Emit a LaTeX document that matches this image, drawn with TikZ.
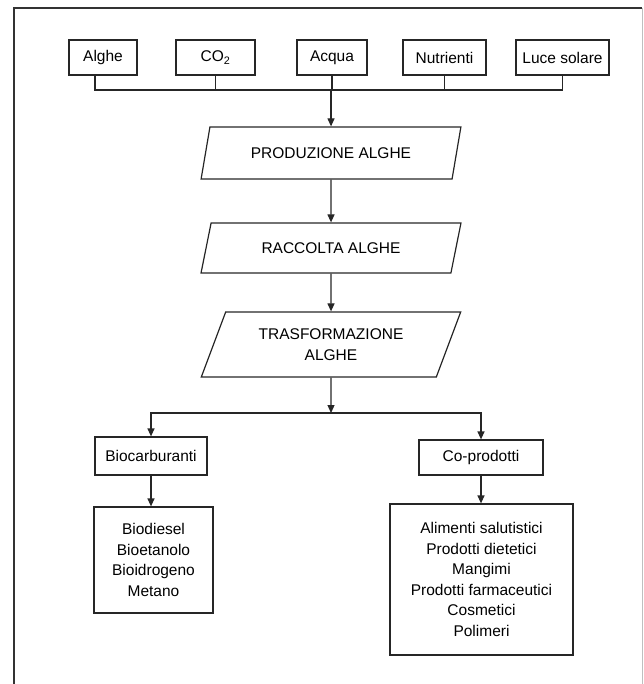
\documentclass[tikz,border=0pt]{standalone}
\usepackage{fontspec}
\setmainfont{Liberation Sans}
\usetikzlibrary{arrows.meta, shapes.geometric}

\begin{document}
\begin{tikzpicture}[x=1pt, y=-1pt,
  box/.style={draw=black!85, line width=1.2pt, font=\fontsize{15.5}{20.5}\selectfont,
              align=center, inner sep=0pt},
  phase/.style={trapezium, trapezium left angle=62, trapezium right angle=118,
                trapezium stretches=true, draw=black!85, line width=1.2pt,
                font=\fontsize{15.5}{20.5}\selectfont, align=center, inner sep=0pt,
                minimum width=260pt},
  link/.style={draw=black!85, line width=1.2pt},
  arr/.style={link, -{Triangle[length=8pt, width=7pt]}}]

\useasboundingbox (0,0) rectangle (643,684);

% ---------- frame ----------
\draw[draw=black!80, line width=1.8pt] (14,684) -- (14,8) -- (642,8);
\draw[draw=black!25, line width=1pt] (642,8) -- (642,684);

% ---------- inputs ----------
\node[box, minimum width=68pt, minimum height=35pt] (alghe) at (103, 57.5) {Alghe};
\node[box, minimum width=79pt, minimum height=35pt] (co2)   at (215.5, 57.5) {CO\textsubscript{2}};
\node[box, minimum width=70pt, minimum height=35pt] (acqua) at (332, 57.5) {Acqua};
\node[box, minimum width=83pt, minimum height=35pt] (nutr)  at (444.5, 57.5) {Nutrienti};
\node[box, minimum width=93pt, minimum height=35pt] (luce)  at (562.5, 57.5) {Luce solare};
\coordinate (bus) at (332, 90);

% ---------- phases ----------
\node[phase, minimum height=52pt] (prod)  at (331, 153)   {PRODUZIONE ALGHE};
\node[phase, minimum height=50pt] (racc)  at (331, 248)   {RACCOLTA ALGHE};
\node[phase, minimum height=65pt] (trasf) at (331, 344.5) {TRASFORMAZIONE\\ALGHE};
\coordinate (split) at (331, 413);

% ---------- outputs ----------
\node[box, minimum width=112pt, minimum height=38pt]  (bio)    at (151, 456)     {Biocarburanti};
\node[box, minimum width=124pt, minimum height=35pt]  (cop)    at (481, 457.5)   {Co-prodotti};
\node[box, minimum width=119pt, minimum height=106pt] (biolst) at (153.5, 560)   {Biodiesel\\Bioetanolo\\Bioidrogeno\\Metano};
\node[box, minimum width=183pt, minimum height=151pt] (coplst) at (481.5, 579.5) {Alimenti salutistici\\Prodotti dietetici\\Mangimi\\Prodotti farmaceutici\\Cosmetici\\Polimeri};

\draw[link] ([xshift=-8pt]alghe.south) |- (luce.south |- bus) -- (luce.south);
\foreach \n in {co2, nutr} {
  \draw[link] (\n.south) -- (\n.south |- bus);
}
\draw[arr] (bus -| prod.north) -- (prod.north);
\draw[link] (acqua.south) -- (bus);
\draw[arr] (prod.south) -- (racc.north);
\draw[arr] (racc.south) -- (trasf.north);
\draw[arr] (trasf.south) -- (split);
\draw[arr] (split) -| (bio.north);
\draw[arr] (split) -| (cop.north);
\draw[arr] (bio.south) -- (bio.south |- biolst.north);
\draw[arr] (cop.south) -- (cop.south |- coplst.north);
\end{tikzpicture}
\end{document}
